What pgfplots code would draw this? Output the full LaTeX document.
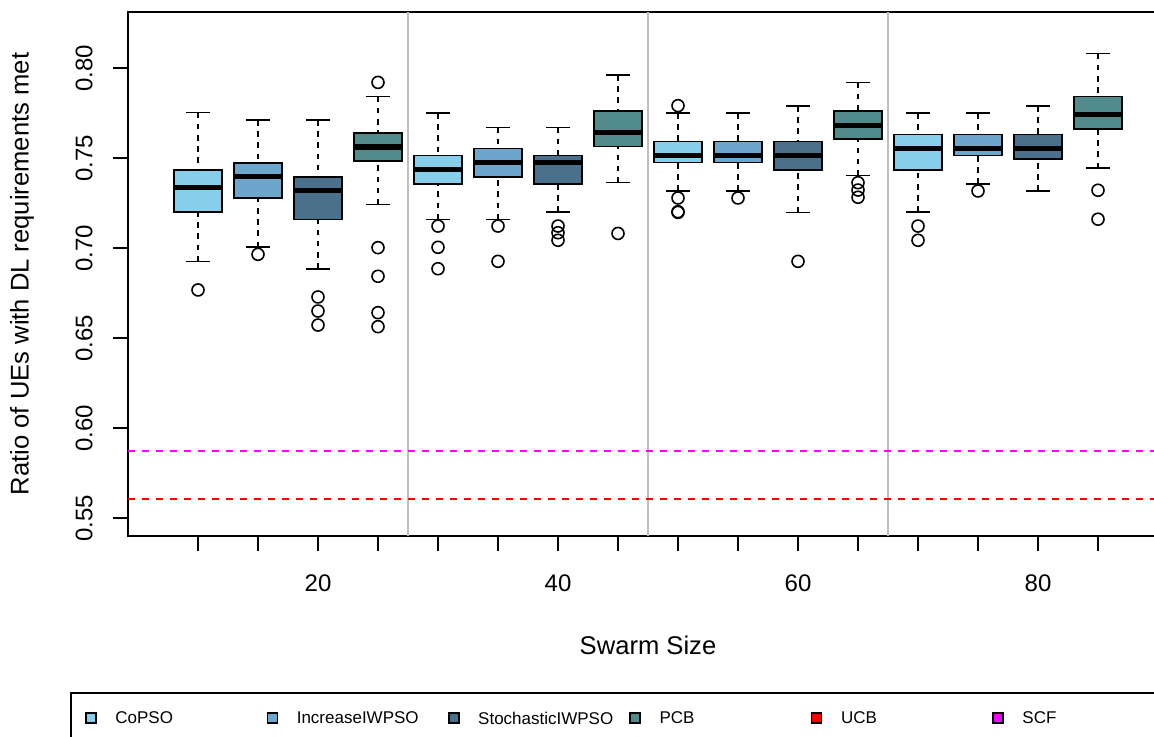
\documentclass[border=0pt]{standalone}
\usepackage{fontspec}
\setmainfont{Liberation Sans}
\usepackage{pgfplots}
\pgfplotsset{compat=1.18}
\usepgfplotslibrary{statistics}
\definecolor{cCo}{HTML}{87CEEB}
\definecolor{cInc}{HTML}{6CA6CD}
\definecolor{cSto}{HTML}{4A708B}
\definecolor{cPCB}{HTML}{528B8B}
\definecolor{rgray}{HTML}{BEBEBE}
\definecolor{rred}{RGB}{255,0,0}
\definecolor{rmag}{RGB}{255,0,255}
\pgfplotsset{
  Rbox/.style={
    draw=black, line width=0.8pt, solid,
    mark=o, mark size=3pt, mark options={solid, black, line width=0.8pt, fill=none},
    boxplot/draw direction=y,
    boxplot/box extend=0.8,
    boxplot/every box/.style={fill=#1, draw=black, line width=0.8pt, solid},
    boxplot/draw/lower whisker/.code={%
      \draw[black, line width=0.8pt, dash pattern=on 2.8pt off 2.8pt]
        (boxplot box cs:\pgfplotsboxplotvalue{lower whisker},0.5) --
        (boxplot box cs:\pgfplotsboxplotvalue{lower quartile},0.5);
      \draw[black, line width=0.8pt, solid]
        (boxplot box cs:\pgfplotsboxplotvalue{lower whisker},0.25) --
        (boxplot box cs:\pgfplotsboxplotvalue{lower whisker},0.75);
    },
    boxplot/draw/upper whisker/.code={%
      \draw[black, line width=0.8pt, dash pattern=on 2.8pt off 2.8pt]
        (boxplot box cs:\pgfplotsboxplotvalue{upper whisker},0.5) --
        (boxplot box cs:\pgfplotsboxplotvalue{upper quartile},0.5);
      \draw[black, line width=0.8pt, solid]
        (boxplot box cs:\pgfplotsboxplotvalue{upper whisker},0.25) --
        (boxplot box cs:\pgfplotsboxplotvalue{upper whisker},0.75);
    },
    boxplot/draw/median/.code={%
      \draw[black, line width=2.6pt, solid]
        (boxplot box cs:\pgfplotsboxplotvalue{median},0) --
        (boxplot box cs:\pgfplotsboxplotvalue{median},1);
    },
  },
}
\newcommand{\bx}[7]{% color, pos, lw, lq, med, uq, uw
  \addplot[Rbox=#1, boxplot prepared={draw position=#2, lower whisker=#3, lower quartile=#4, median=#5, upper quartile=#6, upper whisker=#7}]}
\begin{document}
\begin{tikzpicture}
\begin{axis}[
  at={(64pt,-268pt)}, anchor=south west,
  scale only axis, width=520pt, height=262pt,
  xmin=-0.166667, xmax=17.166667, ymin=0.54, ymax=0.831111,
  axis line style={line width=0.75pt, black},
  xtick={1,...,16}, xticklabels={,,20,,,,40,,,,60,,,,80,},
  ytick={0.55,0.60,0.65,0.70,0.75,0.80},
  yticklabels={0.55,0.60,0.65,0.70,0.75,0.80},
  xtick pos=left, ytick pos=left,
  tick align=outside, major tick length=7.5pt,
  every tick/.style={black, line width=0.75pt},
  tick label style={font=\fontsize{12}{14}\selectfont},
  xticklabel style={anchor=center, yshift=-16pt},
  yticklabel style={rotate=90, anchor=center, yshift=14.5pt},
  label style={font=\fontsize{12.8}{15}\selectfont},
  xlabel={Swarm Size},
  ylabel={Ratio of UEs with DL requirements met},
  xlabel style={at={(axis description cs:0.5,0)}, anchor=center, yshift=-54.5pt},
  ylabel style={at={(axis description cs:0,0.5)}, anchor=center, yshift=53pt},
  clip=false,
]
% reference lines
\addplot[rgray, line width=1pt] coordinates {(4.5,0.54) (4.5,0.831111)};
\addplot[rgray, line width=1pt] coordinates {(8.5,0.54) (8.5,0.831111)};
\addplot[rgray, line width=1pt] coordinates {(12.5,0.54) (12.5,0.831111)};
\addplot[rmag, line width=0.6pt, dash pattern=on 3.5pt off 3.5pt] coordinates {(-0.166667,0.5872) (17.166667,0.5872)};
\addplot[rred, line width=0.6pt, dash pattern=on 3.5pt off 3.5pt] coordinates {(-0.166667,0.5606) (17.166667,0.5606)};
% group 20
\bx{cCo}{1}{0.6926}{0.7200}{0.7337}{0.7433}{0.7752} coordinates {(1,0.6767)};
\bx{cInc}{2}{0.7004}{0.7278}{0.7396}{0.7472}{0.7711} coordinates {(2,0.6965)};
\bx{cSto}{3}{0.6885}{0.7159}{0.7319}{0.7394}{0.7711} coordinates {(3,0.6728) (3,0.6650) (3,0.6572)};
\bx{cPCB}{4}{0.7241}{0.7482}{0.7561}{0.7639}{0.7841} coordinates {(4,0.7920) (4,0.7002) (4,0.6843) (4,0.6641) (4,0.6563)};
% group 40
\bx{cCo}{5}{0.7159}{0.7356}{0.7435}{0.7513}{0.7750} coordinates {(5,0.7122) (5,0.7004) (5,0.6885)};
\bx{cInc}{6}{0.7159}{0.7396}{0.7474}{0.7552}{0.7670} coordinates {(6,0.7122) (6,0.6926)};
\bx{cSto}{7}{0.7200}{0.7356}{0.7474}{0.7513}{0.7670} coordinates {(7,0.7122) (7,0.7085) (7,0.7043)};
\bx{cPCB}{8}{0.7363}{0.7563}{0.7641}{0.7761}{0.7961} coordinates {(8,0.7081)};
% group 60
\bx{cCo}{9}{0.7317}{0.7474}{0.7513}{0.7591}{0.7750} coordinates {(9,0.7791) (9,0.7278) (9,0.7198) (9,0.7202)};
\bx{cInc}{10}{0.7317}{0.7474}{0.7513}{0.7591}{0.7750} coordinates {(10,0.7278)};
\bx{cSto}{11}{0.7198}{0.7435}{0.7513}{0.7591}{0.7789} coordinates {(11,0.6926)};
\bx{cPCB}{12}{0.7402}{0.7604}{0.7681}{0.7761}{0.7920} coordinates {(12,0.7363) (12,0.7322) (12,0.7282)};
% group 80
\bx{cCo}{13}{0.7200}{0.7435}{0.7554}{0.7631}{0.7750} coordinates {(13,0.7122) (13,0.7043)};
\bx{cInc}{14}{0.7356}{0.7513}{0.7554}{0.7631}{0.7750} coordinates {(14,0.7317)};
\bx{cSto}{15}{0.7317}{0.7493}{0.7554}{0.7631}{0.7789} coordinates {};
\bx{cPCB}{16}{0.7443}{0.7661}{0.7741}{0.7841}{0.8080} coordinates {(16,0.7321) (16,0.7160)};
\end{axis}
% legend
\begin{scope}[x=0.5pt, y=-0.5pt]
\draw[line width=0.75pt] (71,693) rectangle (1250,800);
\foreach \c/\t [count=\i from 0] in {cCo/CoPSO, cInc/IncreaseIWPSO, cSto/StochasticIWPSO, cPCB/PCB, rred/UCB, rmag/SCF}{
  \pgfmathsetmacro{\xx}{91+181.4*\i}
  \draw[fill=\c, line width=0.8pt] (\xx-5,713) rectangle (\xx+5,723);
  \node[anchor=west, inner sep=0pt, font=\fontsize{8.5}{10}\selectfont] at (\xx+24,718) {\t};
}
\end{scope}
\pgfresetboundingbox
\path (0pt,0pt) rectangle (577pt,-368pt);
\end{tikzpicture}
\end{document}
